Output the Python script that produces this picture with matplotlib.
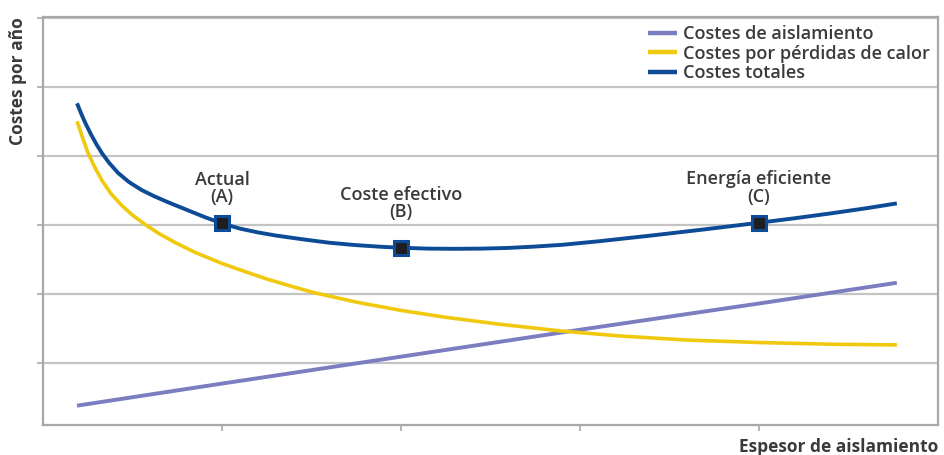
import matplotlib
matplotlib.use("Agg")
import matplotlib.pyplot as plt

# ---- data ----
insul_x = [0.19, 1.0, 2.0, 3.0, 4.0, 4.77]
insul_y = [0.38, 0.70, 1.09, 1.48, 1.86, 2.16]

heat_x = [0.19, 0.22, 0.25, 0.29, 0.33, 0.38, 0.44, 0.50, 0.57, 0.65, 0.74, 0.85, 1.0, 1.12, 1.25,
          1.38, 1.51, 1.75, 2.0, 2.25, 2.55, 2.9, 3.22, 3.6, 4.0, 4.4, 4.77]
heat_y = [4.50, 4.27, 4.05, 3.83, 3.64, 3.45, 3.28, 3.14, 3.005, 2.87, 2.74, 2.60, 2.44, 2.33, 2.215,
          2.115, 2.02, 1.88, 1.76, 1.66, 1.56, 1.46, 1.39, 1.33, 1.295, 1.27, 1.26]

total_x = [0.19, 0.215, 0.24, 0.27, 0.30, 0.33, 0.37, 0.42, 0.48, 0.55, 0.62, 0.70, 0.80, 0.90,
           1.0, 1.1, 1.2, 1.3, 1.45, 1.6, 1.75, 1.9, 2.0, 2.15, 2.3, 2.45, 2.6, 2.75, 2.9, 3.1,
           3.4, 3.7, 4.0, 4.2, 4.4, 4.6, 4.77]
total_y = [4.76, 4.60, 4.455, 4.30, 4.16, 4.035, 3.895, 3.75, 3.62, 3.505, 3.415, 3.325, 3.22, 3.115,
           3.02, 2.945, 2.89, 2.845, 2.79, 2.74, 2.705, 2.68, 2.668, 2.655, 2.652, 2.655, 2.665, 2.685, 2.71, 2.76,
           2.845, 2.935, 3.03, 3.095, 3.165, 3.24, 3.31]

point_x = [1.0, 2.0, 4.0]
point_y = [3.02, 2.665, 3.03]
point_labels = ["Actual\n(A)", "Coste efectivo\n(B)", "Energía eficiente\n(C)"]
point_offsets = [25, 32, 25]

series_names = ["Costes de aislamiento", "Costes por pérdidas de calor", "Costes totales"]

# ---- style ----
c_insul = "#7a7dbf"
c_heat = "#f0c90e"
c_total = "#0e4b97"
c_text = "#3a3a3a"
c_grid = "#c4c4c4"
c_spine = "#a8a8a8"

plt.rcParams['font.family'] = ['Open Sans', 'DejaVu Sans']

fig = plt.figure(figsize=(9.44, 4.55), dpi=100)
ax = fig.add_axes([43/944, 30/455, 895/944, 408/455])

kw = dict(solid_capstyle='butt', solid_joinstyle='round')
ax.plot(insul_x, insul_y, color=c_insul, lw=2.8, label=series_names[0], zorder=3, **kw)
ax.plot(heat_x, heat_y, color=c_heat, lw=2.6, label=series_names[1], zorder=3, **kw)
ax.plot(total_x, total_y, color=c_total, lw=2.8, label=series_names[2], zorder=4, **kw)
ax.plot(point_x, point_y, ls='none', marker='s', ms=9.5, mfc='#1e1e22', mec=c_total, mew=2.2, zorder=5)

for x, y, lab, off in zip(point_x, point_y, point_labels, point_offsets):
    ax.annotate(lab, (x, y), xytext=(0, off), textcoords='offset points',
                ha='center', va='center', fontsize=13, fontweight='semibold',
                color=c_text, linespacing=0.95)

ax.set_xlim(0, 5.0)
ax.set_ylim(0.1, 6.01)
ax.set_xticks([1, 2, 3, 4])
ax.set_yticks([1, 2, 3, 4, 5, 6])
ax.set_xticklabels([])
ax.set_yticklabels([])
ax.grid(axis='y', color=c_grid, lw=1.6)
ax.set_axisbelow(True)
ax.tick_params(length=4, width=1.2, color=c_spine, direction='out')
for s in ax.spines.values():
    s.set_color(c_spine)
    s.set_linewidth(1.6)

leg = ax.legend(loc='upper right', bbox_to_anchor=(1.0, 1.0), frameon=False,
                fontsize=13, handlelength=1.6, handletextpad=0.33,
                labelspacing=0.08, borderaxespad=0.25, borderpad=0.2)
for t in leg.get_texts():
    t.set_color(c_text)
    t.set_fontweight('semibold')
for h in leg.get_lines():
    h.set_linewidth(3.2)

fig.text(18/944, 1 - 17/455, "Costes por año", rotation=90, ha='center', va='top',
         fontsize=12.5, fontweight='bold', color=c_text)
fig.text(938/944, 1 - 447/455, "Espesor de aislamiento", ha='right', va='center',
         fontsize=12.5, fontweight='bold', color=c_text)

fig.savefig("out.png", dpi=100)
